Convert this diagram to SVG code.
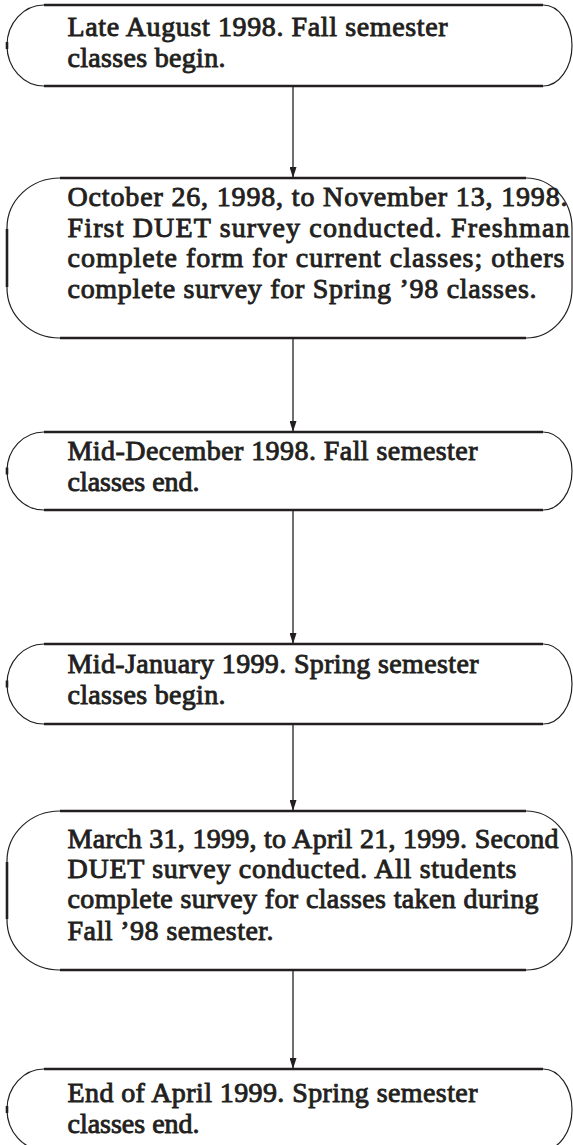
<svg xmlns="http://www.w3.org/2000/svg" width="573" height="1145" viewBox="0 0 573 1145">
<style>
.bg{fill:#ffffff}
.edge{fill:none;stroke:#231f20;stroke-width:1.2}
.hl{fill:none;stroke:#231f20;stroke-width:2.4}
.tick{fill:none;stroke:#231f20;stroke-width:2.6}
.t{font-family:"Liberation Serif","Times New Roman",serif;font-weight:normal;font-size:28px;fill:#231f20;stroke:#231f20;stroke-width:0.9}
.conn{fill:none;stroke:#231f20;stroke-width:1.3}
</style>
<defs>
<marker id="ah" markerUnits="userSpaceOnUse" markerWidth="11" markerHeight="7" refX="11" refY="3.5" orient="auto" viewBox="0 0 11 7">
<path d="M0,0 L11,3.5 L0,7 z" fill="#231f20"/>
</marker>
</defs>
<rect class="bg" x="0" y="0" width="573" height="1145"/>

<g id="connectors">
<line class="conn" x1="293" y1="86" x2="293" y2="178" marker-end="url(#ah)"/>
<line class="conn" x1="293" y1="338" x2="293" y2="432" marker-end="url(#ah)"/>
<line class="conn" x1="293" y1="510" x2="293" y2="644" marker-end="url(#ah)"/>
<line class="conn" x1="293" y1="724" x2="293" y2="811" marker-end="url(#ah)"/>
<line class="conn" x1="293" y1="970" x2="293" y2="1069" marker-end="url(#ah)"/>
</g>

<g id="node1">
<path class="edge" d="M543,5 A29,40.5 0 0 1 572,45.5 A29,40.5 0 0 1 543,86 M44,86 A37,40.5 0 0 1 7,45.5 A37,40.5 0 0 1 44,5"/>
<path class="hl" d="M44,5 H543 M44,86 H543"/>
<path class="tick" d="M7,42 V49"/>
<text class="t" x="67.5" y="36" textLength="380" lengthAdjust="spacing">Late August 1998. Fall semester</text>
<text class="t" x="67.5" y="67" textLength="158" lengthAdjust="spacing">classes begin.</text>
</g>

<g id="node2">
<path class="edge" d="M526,178 A46,50 0 0 1 572,228 V288 A46,50 0 0 1 526,338 M60,338 A53,50 0 0 1 7,288 V228 A53,50 0 0 1 60,178"/>
<path class="hl" d="M60,178 H526 M60,338 H526"/>
<path class="tick" d="M7,229 V287"/>
<text class="t" x="67.5" y="206" textLength="500" lengthAdjust="spacing">October 26, 1998, to November 13, 1998.</text>
<text class="t" x="67.5" y="237" textLength="502" lengthAdjust="spacing">First DUET survey conducted. Freshman</text>
<text class="t" x="67.5" y="267" textLength="497" lengthAdjust="spacing">complete form for current classes; others</text>
<text class="t" x="67.5" y="298" textLength="469" lengthAdjust="spacing">complete survey for Spring ’98 classes.</text>
</g>

<g id="node3">
<path class="edge" d="M543,432 A29,39 0 0 1 572,471 A29,39 0 0 1 543,510 M44,510 A37,39 0 0 1 7,471 A37,39 0 0 1 44,432"/>
<path class="hl" d="M44,432 H543 M44,510 H543"/>
<path class="tick" d="M7,467.5 V474.5"/>
<text class="t" x="67.5" y="460" textLength="410" lengthAdjust="spacing">Mid-December 1998. Fall semester</text>
<text class="t" x="67.5" y="491" textLength="132" lengthAdjust="spacing">classes end.</text>
</g>

<g id="node4">
<path class="edge" d="M543,644 A29,40 0 0 1 572,684 A29,40 0 0 1 543,724 M44,724 A37,40 0 0 1 7,684 A37,40 0 0 1 44,644"/>
<path class="hl" d="M44,644 H543 M44,724 H543"/>
<path class="tick" d="M7,680.5 V687.5"/>
<text class="t" x="67.5" y="673" textLength="411" lengthAdjust="spacing">Mid-January 1999. Spring semester</text>
<text class="t" x="67.5" y="704" textLength="158" lengthAdjust="spacing">classes begin.</text>
</g>

<g id="node5">
<path class="edge" d="M526,811 A46,50 0 0 1 572,861 V920 A46,50 0 0 1 526,970 M60,970 A53,50 0 0 1 7,920 V861 A53,50 0 0 1 60,811"/>
<path class="hl" d="M60,811 H526 M60,970 H526"/>
<path class="tick" d="M7,862 V919"/>
<text class="t" x="67.5" y="848" textLength="491" lengthAdjust="spacing">March 31, 1999, to April 21, 1999. Second</text>
<text class="t" x="67.5" y="878" textLength="449" lengthAdjust="spacing">DUET survey conducted. All students</text>
<text class="t" x="67.5" y="908" textLength="471" lengthAdjust="spacing">complete survey for classes taken during</text>
<text class="t" x="67.5" y="940" textLength="206" lengthAdjust="spacing">Fall ’98 semester.</text>
</g>

<g id="node6">
<path class="edge" d="M543,1069 A29,40.5 0 0 1 572,1109.5 A29,40.5 0 0 1 543,1150 M44,1150 A37,40.5 0 0 1 7,1109.5 A37,40.5 0 0 1 44,1069"/>
<path class="hl" d="M44,1069 H543 M44,1150 H543"/>
<path class="tick" d="M7,1106 V1113"/>
<text class="t" x="67.5" y="1102" textLength="410" lengthAdjust="spacing">End of April 1999. Spring semester</text>
<text class="t" x="67.5" y="1133" textLength="132" lengthAdjust="spacing">classes end.</text>
</g>
</svg>
